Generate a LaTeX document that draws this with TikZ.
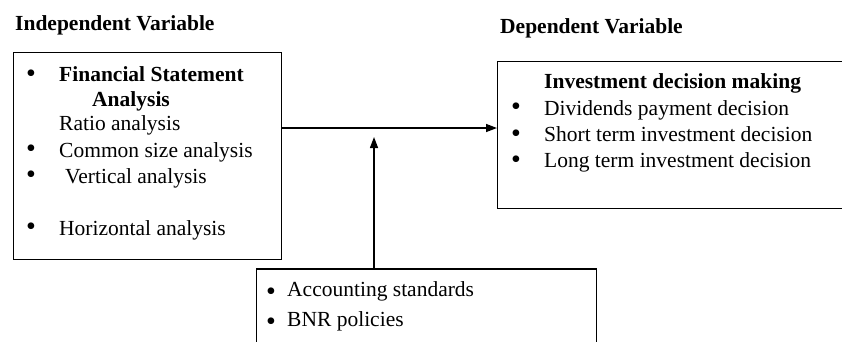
\documentclass[tikz,border=0pt]{standalone}
\usepackage{fontspec}
\setmainfont{Liberation Serif}
\usetikzlibrary{arrows.meta}
\begin{document}
\begin{tikzpicture}[x=1pt,y=-1pt,
  txt/.style={anchor=base west, inner sep=0pt, font=\fontsize{21.5}{26}\selectfont},
  btxt/.style={anchor=base west, inner sep=0pt, font=\fontsize{21.5}{26}\selectfont\bfseries},
  bul/.style={anchor=base, inner sep=0pt, font=\fontsize{28}{30}\selectfont},
  box/.style={draw, line width=1.4pt, anchor=north west, inner sep=0pt},
  conn/.style={line width=1.4pt, -{Triangle[length=11pt,width=8pt]}}]
\useasboundingbox (0,0) rectangle (842,341);
\clip (0,0) rectangle (842,341);
% boxes
\node[box, minimum width=268pt, minimum height=207pt] (ind) at (12.5,52) {};
\node[box, minimum width=344.5pt, minimum height=147pt] (dep) at (497,61) {};
\node[box, minimum width=340pt, minimum height=100pt] (mod) at (256,268.3) {};
% headings
\node[btxt] (hInd) at (15,30.7) {Independent Variable};
\node[btxt] (hDep) at (500,33.3) {Dependent Variable};
% left box content
\node[bul] (b1) at (31,82.3) {•};
\node[btxt] (l1) at (59,81.7) {Financial Statement};
\node[btxt] (l2) at (92,106) {Analysis};
\node[txt] (l3) at (59,130.5) {Ratio analysis};
\node[bul] (b2) at (31,157.6) {•};
\node[txt] (l4) at (59,157) {Common size analysis};
\node[bul] (b3) at (31,183.6) {•};
\node[txt] (l5) at (65,183) {Vertical analysis};
\node[bul] (b4) at (31,235.6) {•};
\node[txt] (l6) at (59,235) {Horizontal analysis};
% right box content
\node[btxt] (r0) at (544,88.3) {Investment decision making};
\node[bul] (rb1) at (516,115.6) {•};
\node[txt] (r1) at (544,115) {Dividends payment decision};
\node[bul] (rb2) at (516,142.3) {•};
\node[txt] (r2) at (544,141.7) {Short term investment decision};
\node[bul] (rb3) at (516,168.3) {•};
\node[txt] (r3) at (544,167.7) {Long term investment decision};
% bottom box content
\node[bul] (mb1) at (271,300.3) {•};
\node[txt] (m1) at (287,296.7) {Accounting standards};
\node[bul] (mb2) at (271,330.3) {•};
\node[txt] (m2) at (287,326.7) {BNR policies};
% connectors
\coordinate (h) at (0,128);
\coordinate (v) at (374,137);
\draw[conn] (ind.east |- h) -- (dep.west |- h);
\draw[conn] (mod.north -| v) -- (v);
\end{tikzpicture}
\end{document}
